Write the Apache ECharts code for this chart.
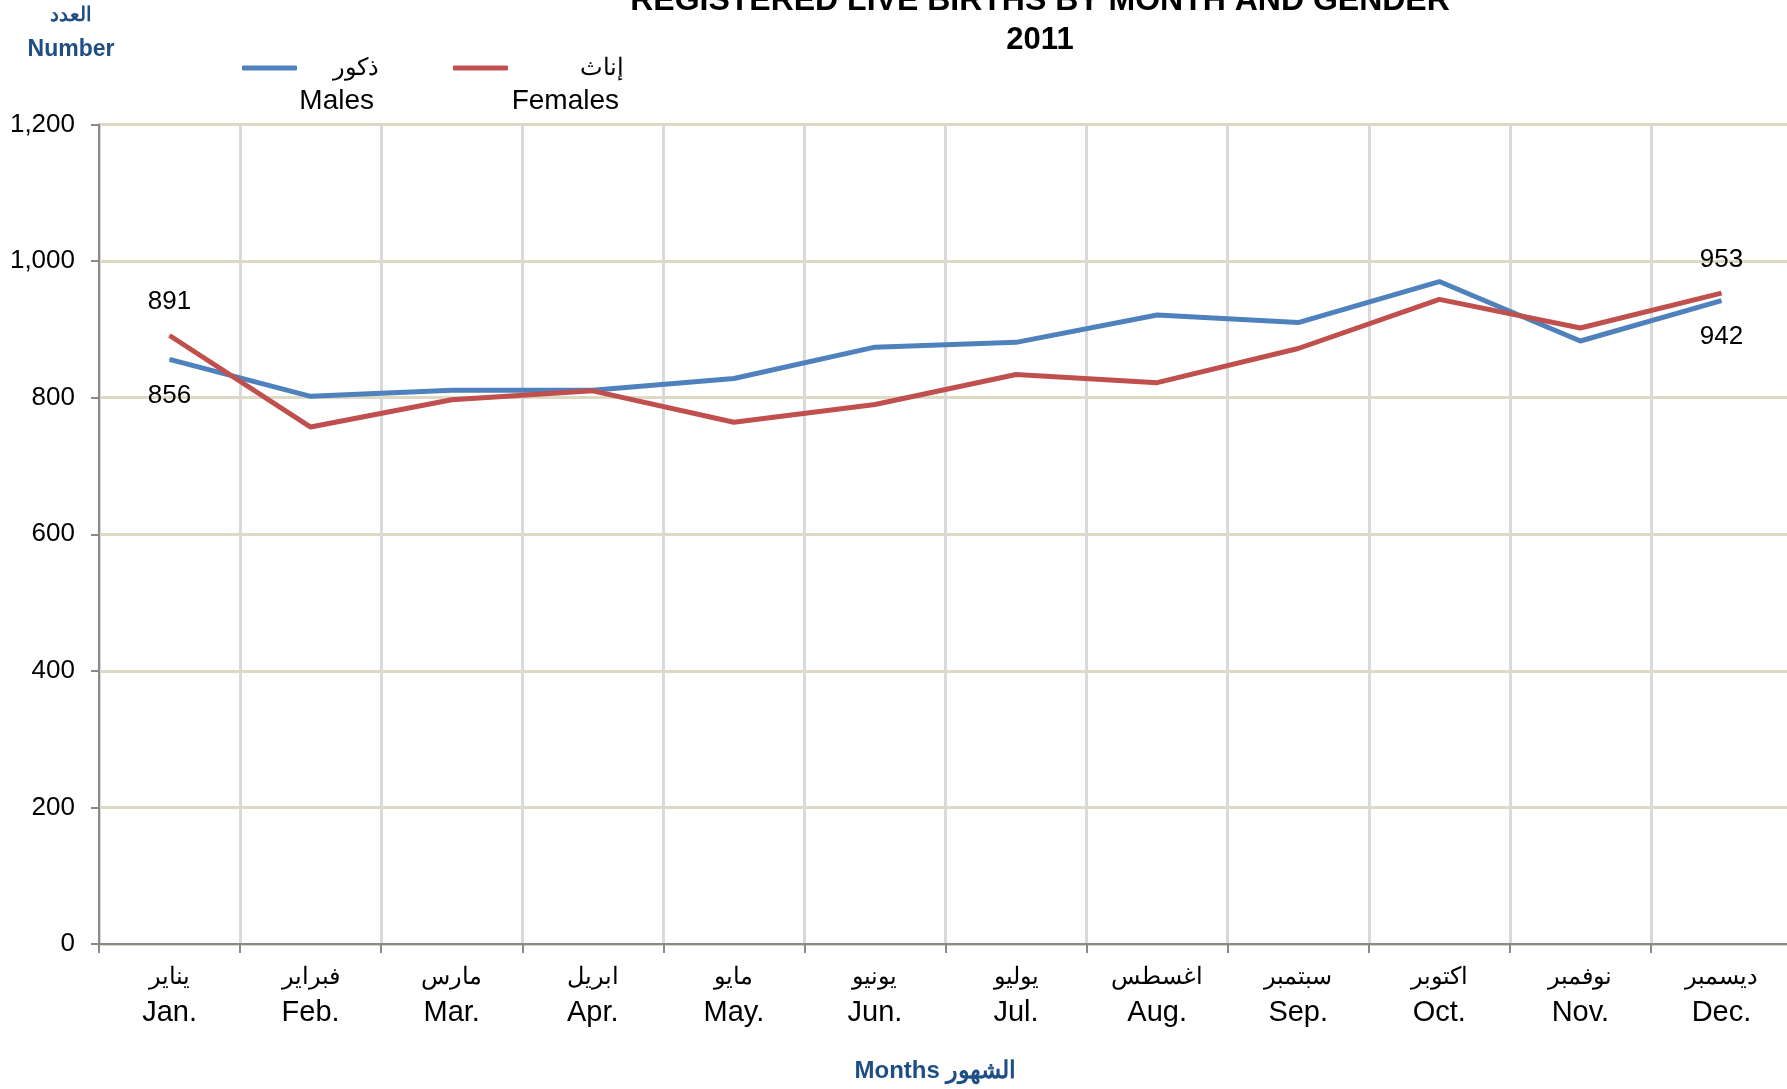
<!DOCTYPE html>
<html>
<head>
<meta charset="utf-8">
<script src="https://cdn.jsdelivr.net/npm/echarts@6/dist/echarts.min.js"></script>
<style>
  html, body { margin: 0; padding: 0; background: #fff; }
  #main { width: 1787px; height: 1089px; }
</style>
</head>
<body>
<div id="main"></div>
<script>
// months, english + arabic
const monthsEn = ['Jan.', 'Feb.', 'Mar.', 'Apr.', 'May.', 'Jun.', 'Jul.', 'Aug.', 'Sep.', 'Oct.', 'Nov.', 'Dec.'];
const monthsAr = ['يناير', 'فبراير', 'مارس', 'ابريل', 'مايو', 'يونيو', 'يوليو', 'اغسطس', 'سبتمبر', 'اكتوبر', 'نوفمبر', 'ديسمبر'];
const males = [856, 802, 811, 811, 828, 874, 881, 921, 910, 970, 883, 942];
const females = [891, 757, 797, 810, 764, 790, 834, 822, 872, 944, 902, 953];
const yTicks = [0, 200, 400, 600, 800, 1000, 1200];

const FONT = '"Liberation Sans", Arial, sans-serif';
const BLUE_TXT = '#1f4e84';

const chart = echarts.init(document.getElementById('main'), null, { renderer: 'canvas' });

// only first and last points get a value label
function withEndLabels(arr) {
  return arr.map(function (v, i) {
    if (i === 0 || i === arr.length - 1) {
      return { value: v, label: { show: true } };
    }
    return v;
  });
}

var option = {
  backgroundColor: '#ffffff',
  animation: false,
  color: ['#4F81BD', '#C0504D'],
  textStyle: { fontFamily: FONT },
  graphic: [
    {
      type: 'text', x: 1040, y: 1,
      style: {
        text: 'REGISTERED LIVE BIRTHS BY MONTH AND GENDER', font: 'bold 32px ' + FONT,
        fill: '#000', textAlign: 'center', textVerticalAlign: 'middle'
      }
    },
    {
      type: 'text', x: 1040, y: 40,
      style: { text: '2011', font: 'bold 31px ' + FONT, fill: '#000', textAlign: 'center', textVerticalAlign: 'middle' }
    },
    {
      type: 'text', x: 71, y: 15,
      style: { text: 'العدد', font: 'bold 20px ' + FONT, fill: BLUE_TXT, textAlign: 'center', textVerticalAlign: 'middle' }
    },
    {
      type: 'text', x: 71, y: 50,
      style: { text: 'Number', font: 'bold 23px ' + FONT, fill: BLUE_TXT, textAlign: 'center', textVerticalAlign: 'middle' }
    },
    {
      type: 'text', x: 374, y: 101,
      style: { text: 'Males', font: '28px ' + FONT, fill: '#000', textAlign: 'right', textVerticalAlign: 'middle' }
    },
    {
      type: 'text', x: 619, y: 101,
      style: { text: 'Females', font: '28px ' + FONT, fill: '#000', textAlign: 'right', textVerticalAlign: 'middle' }
    }
  ],
  legend: {
    left: 237,
    top: 51,
    itemWidth: 55,
    itemHeight: 5,
    itemGap: 74,
    icon: 'roundRect',
    data: ['Males', 'Females'],
    formatter: function (name) {
      return name === 'Males' ? '{m|ذكور}' : '{f|إناث}';
    },
    textStyle: {
      color: '#000',
      fontSize: 24,
      rich: {
        m: { width: 77, align: 'right', fontSize: 24, fontFamily: FONT },
        f: { width: 111, align: 'right', fontSize: 24, fontFamily: FONT }
      }
    }
  },
  grid: {
    left: 99,
    top: 124.5,
    width: 1693,
    height: 819.5,
    containLabel: false,
    outerBoundsMode: 'none'
  },
  xAxis: {
    type: 'category',
    data: monthsEn,
    boundaryGap: true,
    name: 'Months الشهور',
    nameLocation: 'middle',
    nameGap: 115,
    nameTextStyle: { color: BLUE_TXT, fontWeight: 'bold', fontSize: 24, fontFamily: FONT, padding: [0, 20, 0, 0] },
    axisLine: { lineStyle: { color: '#898989', width: 2 } },
    axisTick: { show: true, length: 9, lineStyle: { color: '#898989', width: 2 } },
    splitLine: { show: true, lineStyle: { color: '#D9D9D9', width: 3 } },
    axisLabel: {
      margin: 16,
      interval: 0,
      formatter: function (v, i) {
        return '{ar|' + monthsAr[i] + '}\n{en|' + v + '}';
      },
      rich: {
        ar: { fontSize: 24, color: '#000', lineHeight: 35, fontFamily: FONT },
        en: { fontSize: 29, color: '#000', lineHeight: 35, fontFamily: FONT }
      }
    }
  },
  yAxis: {
    type: 'value',
    min: yTicks[0],
    max: yTicks[yTicks.length - 1],
    interval: 200,
    axisLine: { show: true, lineStyle: { color: '#898989', width: 2 } },
    axisTick: { show: true, length: 8, lineStyle: { color: '#898989', width: 2 } },
    splitLine: { show: true, lineStyle: { color: '#DDD9C3', width: 3 } },
    axisLabel: {
      margin: 24,
      color: '#000',
      fontSize: 26,
      formatter: function (v) { return v.toLocaleString('en-US'); }
    }
  },
  series: [
    {
      name: 'Males',
      type: 'line',
      data: withEndLabels(males),
      symbol: 'circle',
      symbolSize: 1,
      lineStyle: { width: 5, color: '#4F81BD' },
      itemStyle: { color: '#4F81BD' },
      label: { show: false, position: 'bottom', distance: 23, color: '#000', fontSize: 26 },
      z: 3
    },
    {
      name: 'Females',
      type: 'line',
      data: withEndLabels(females),
      symbol: 'circle',
      symbolSize: 1,
      lineStyle: { width: 5, color: '#C0504D' },
      itemStyle: { color: '#C0504D' },
      label: { show: false, position: 'top', distance: 20, color: '#000', fontSize: 26 },
      z: 4
    }
  ]
};

chart.setOption(option);
</script>
</body>
</html>
